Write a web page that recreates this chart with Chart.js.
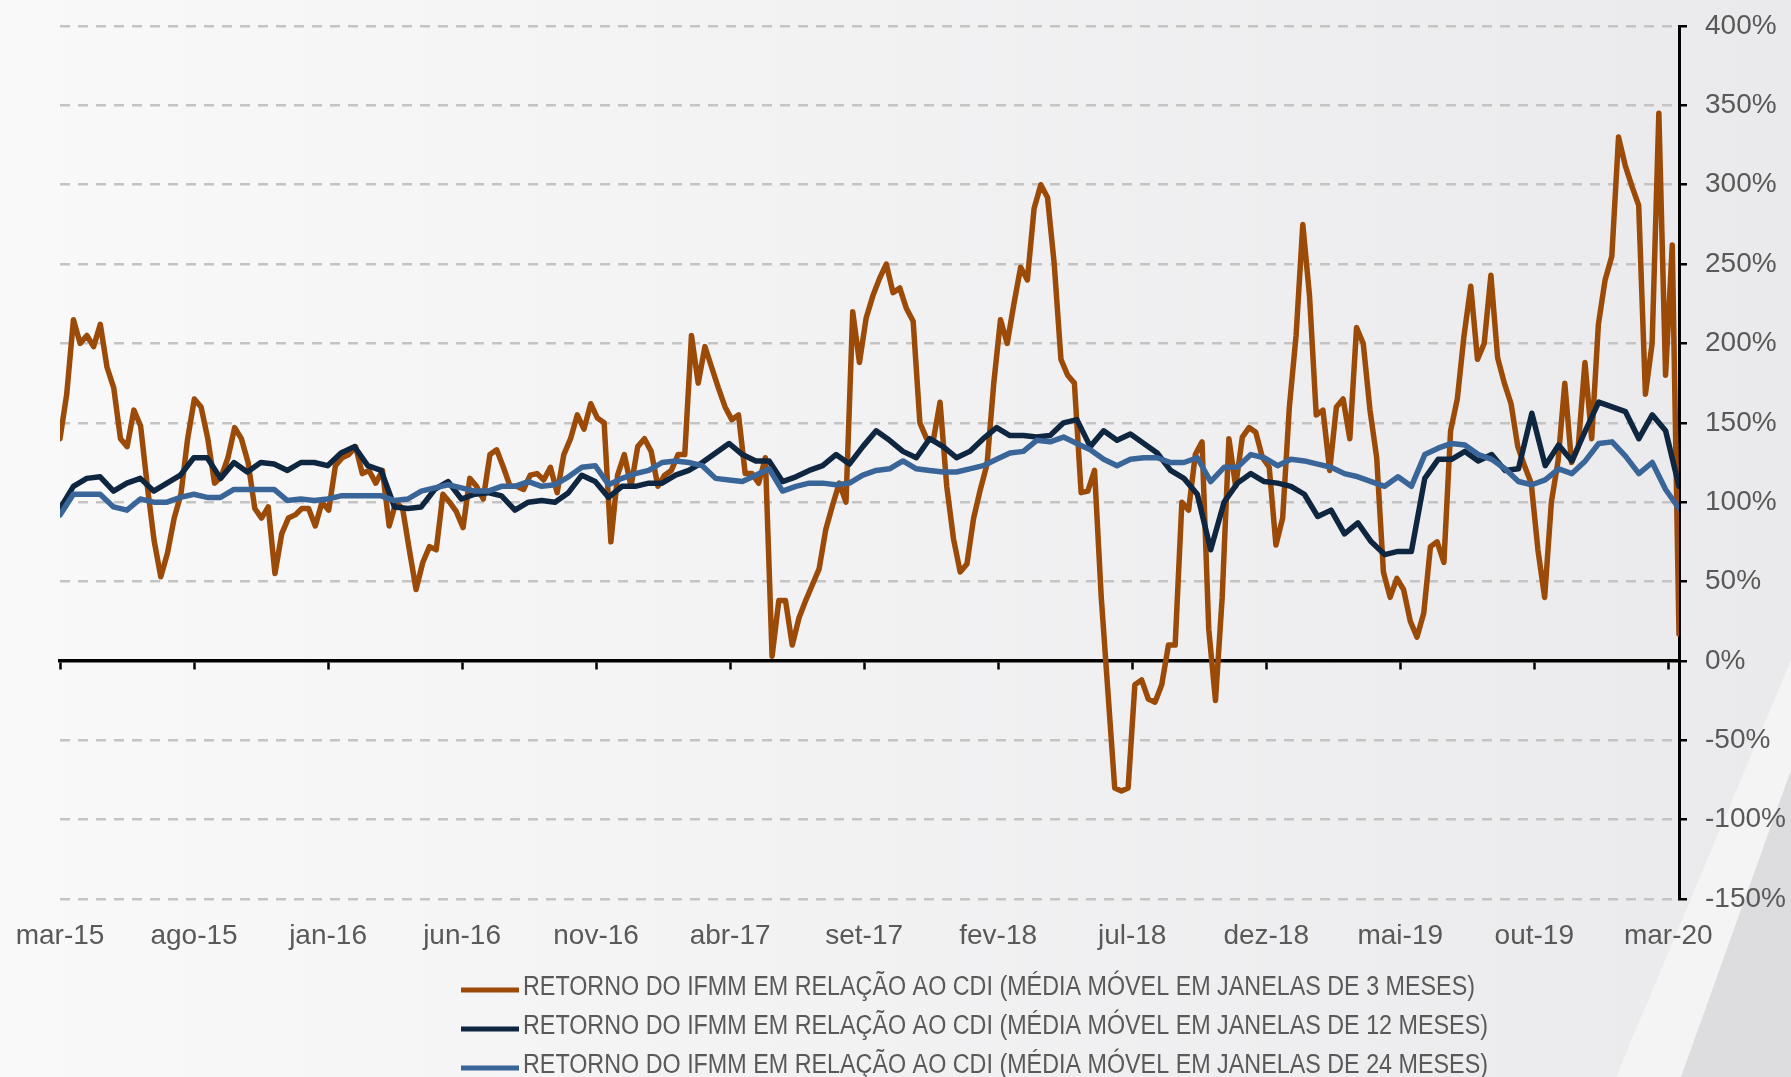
<!DOCTYPE html>
<html lang="pt-BR">
<head>
<meta charset="utf-8">
<title>Retorno do IFMM em relação ao CDI</title>
<script src="https://cdn.jsdelivr.net/npm/chart.js@4.4.1/dist/chart.umd.min.js"></script>
<style>
    html, body { margin: 0; padding: 0; background: #f3f3f4; }
    canvas { display: block; }
</style>
</head>
<body>
<canvas id="ifmmChart" width="1791" height="1077"></canvas>
<script>
// x axis: months since mar-15, one label every 5 months
const tickLabels = ['mar-15', 'ago-15', 'jan-16', 'jun-16', 'nov-16', 'abr-17', 'set-17',
    'fev-18', 'jul-18', 'dez-18', 'mai-19', 'out-19', 'mar-20'];
const END_MONTH = 60.4; // last observation, mid march 2020

const seriesLabels = [
    'RETORNO DO IFMM EM RELAÇÃO AO CDI (MÉDIA MÓVEL EM JANELAS DE 3 MESES)',
    'RETORNO DO IFMM EM RELAÇÃO AO CDI (MÉDIA MÓVEL EM JANELAS DE 12 MESES)',
    'RETORNO DO IFMM EM RELAÇÃO AO CDI (MÉDIA MÓVEL EM JANELAS DE 24 MESES)'
];

// 3 month window, roughly weekly readings (%)
const ret3m = [
    140, 168, 215, 200, 205, 198, 212, 185, 172, 140, 135, 158, 148, 110, 76, 53, 68, 90, 105, 140, 165, 160, 140, 112, 116,
    128, 147, 140, 125, 96, 90, 97, 55, 80, 90, 92, 96, 96, 85, 100, 95, 123, 128, 130, 135, 118, 120, 112, 120, 85,
    100, 96, 70, 45, 62, 72, 70, 105, 100, 94, 84, 115, 110, 102, 130, 133, 122, 110, 110, 108, 117, 118, 114, 122,
    106, 130, 140, 155, 146, 162, 153, 150, 75, 117, 130, 110, 135, 140, 132, 110, 117, 120, 130, 130, 205, 175, 198, 185, 172,
    160, 152, 155, 118, 118, 112, 128, 3, 38, 38, 10, 27, 38, 48, 58, 83, 98, 112, 100, 220, 188, 216, 230, 241,
    250, 232, 235, 222, 214, 150, 140, 139, 163, 110, 77, 56, 61, 90, 108, 124, 175, 215, 200, 225, 248, 240, 285, 300, 292,
    250, 190, 180, 175, 106, 107, 120, 40, -20, -80, -82, -80, -15, -12, -24, -26, -15, 10, 10, 100, 95, 130, 138, 20, -25,
    40, 140, 110, 141, 147, 144, 128, 122, 73, 90, 160, 205, 275, 230, 155, 158, 120, 160, 165, 140, 210, 200, 158, 128,
    56, 40, 52, 45, 25, 15, 30, 72, 75, 62, 145, 165, 205, 236, 190, 200, 243, 191, 175, 162, 135, 123, 112, 70, 40,
    100, 126, 175, 125, 135, 188, 140, 212, 240, 255, 330, 312, 299, 287, 168, 200, 345, 180, 262, 17
];

// 12 month window, half-month readings (%)
const ret12m = [
    96, 110, 115, 116, 107, 112, 115, 107, 112, 117, 128, 128, 115,
    125, 119, 125, 124, 120, 125, 125, 123, 131, 135, 123, 120,
    97, 96, 97, 108, 113, 102, 105, 106, 104, 95, 100, 101,
    100, 106, 117, 113, 103, 110, 110, 112, 112, 117, 120, 125, 131,
    137, 130, 126, 126, 113, 116, 120, 123, 130, 124, 135, 145,
    139, 132, 128, 140, 135, 128, 132, 140, 147, 142, 142, 141,
    142, 150, 152, 135, 145, 139, 143, 137, 131, 120, 115, 105, 70,
    100, 112, 118, 113, 112, 110, 105, 91, 95, 80, 87, 75,
    67, 69, 69, 115, 127, 127, 132, 126, 130, 120, 121, 156,
    123, 136, 126, 145, 163, 160, 157, 140, 155, 145, 110
];

// 24 month window, half-month readings (%)
const ret24m = [
    92, 105, 105, 105, 97, 95, 102, 100, 100, 103, 105, 103, 103,
    108, 108, 108, 108, 101, 102, 101, 102, 104, 104, 104, 104,
    101, 102, 107, 109, 111, 109, 107, 107, 110, 110, 113, 110,
    111, 116, 122, 123, 111, 115, 118, 120, 125, 126, 125, 123, 115,
    114, 113, 117, 121, 107, 110, 112, 112, 111, 112, 117, 120,
    121, 126, 121, 120, 119, 119, 121, 123, 127, 131, 132, 139,
    138, 141, 137, 133, 127, 123, 127, 128, 128, 125, 125, 128, 113,
    122, 122, 130, 128, 123, 127, 126, 124, 122, 118, 116, 113,
    110, 116, 110, 130, 134, 137, 136, 130, 127, 121, 113, 111,
    114, 121, 118, 126, 137, 138, 129, 118, 125, 108, 96
];

const textColor = '#595959';
const axisFont = { family: 'Liberation Sans', size: 28 };

// readings are evenly spread from mar-15 to the last observation
function toPoints(values) {
    const step = END_MONTH / (values.length - 1);
    return values.map((v, i) => ({ x: i * step, y: v }));
}

// light gray backdrop with the diagonal shapes in the lower right corner
const backdrop = {
    id: 'backdrop',
    beforeDraw(chart) {
        const { ctx, width, height } = chart;
        ctx.save();
        const g = ctx.createLinearGradient(0, 0, width, 0);
        g.addColorStop(0, '#f9f9fa');
        g.addColorStop(1, '#eaeaec');
        ctx.fillStyle = g;
        ctx.fillRect(0, 0, width, height);

        ctx.fillStyle = '#f4f4f5';
        ctx.beginPath();
        ctx.moveTo(width, 660);
        ctx.lineTo(width, height);
        ctx.lineTo(width - 175, height);
        ctx.closePath();
        ctx.fill();

        ctx.fillStyle = '#dddddf';
        ctx.beginPath();
        ctx.moveTo(width, 770);
        ctx.lineTo(width, height);
        ctx.lineTo(width - 110, height);
        ctx.closePath();
        ctx.fill();
        ctx.restore();
    }
};

// legend stacked under the axis, one series per row, narrow lettering
const stackedLegend = {
    id: 'stackedLegend',
    afterDraw(chart) {
        const { ctx } = chart;
        ctx.save();
        ctx.font = '27px "Liberation Sans"';
        const squeeze = 952 / ctx.measureText(chart.data.datasets[0].label).width;
        chart.data.datasets.forEach((ds, i) => {
            const y = 990 + i * 39;
            ctx.strokeStyle = ds.borderColor;
            ctx.lineWidth = 5;
            ctx.lineCap = 'butt';
            ctx.beginPath();
            ctx.moveTo(461, y);
            ctx.lineTo(519, y);
            ctx.stroke();

            ctx.save();
            ctx.translate(523, y + 5);
            ctx.scale(squeeze, 1);
            ctx.fillStyle = textColor;
            ctx.textBaseline = 'alphabetic';
            ctx.fillText(ds.label, 0, 0);
            ctx.restore();
        });
        ctx.restore();
    }
};

const chartCtx = document.getElementById('ifmmChart');
new Chart(chartCtx, {
    type: 'line',
    data: {
        datasets: [{
            label: seriesLabels[0],
            data: toPoints(ret3m),
            borderColor: '#9c4a08',
            borderWidth: 5.5,
            order: 3
        }, {
            label: seriesLabels[1],
            data: toPoints(ret12m),
            borderColor: '#0f2641',
            borderWidth: 5.5,
            order: 2
        }, {
            label: seriesLabels[2],
            data: toPoints(ret24m),
            borderColor: '#3a6599',
            borderWidth: 5.5,
            order: 1
        }]
    },
    options: {
        responsive: false,
        animation: false,
        devicePixelRatio: 1,
        layout: {
            padding: { left: 60, top: 26, right: 0, bottom: 0 }
        },
        elements: {
            point: { radius: 0 },
            line: {
                tension: 0,
                borderJoinStyle: 'round',
                borderCapStyle: 'round'
            }
        },
        plugins: {
            legend: { display: false },
            tooltip: { enabled: false }
        },
        scales: {
            x: {
                type: 'linear',
                min: 0,
                max: END_MONTH,
                border: { display: false },
                grid: { display: false, drawTicks: false },
                ticks: {
                    stepSize: 5,
                    includeBounds: false,
                    autoSkip: false,
                    maxRotation: 0,
                    padding: 20,
                    color: textColor,
                    font: axisFont,
                    callback: function(value) {
                        return tickLabels[Math.round(value / 5)];
                    }
                },
                afterFit: function(scale) {
                    scale.height = 178;
                    scale.paddingLeft = 0;
                    scale.paddingRight = 0;
                }
            },
            // black zero line with the small month ticks
            zero: {
                type: 'linear',
                axis: 'x',
                position: { y: 0 },
                min: 0,
                max: END_MONTH,
                border: { color: '#000000', width: 3.5 },
                grid: {
                    drawOnChartArea: false,
                    drawTicks: true,
                    tickLength: 7,
                    tickColor: '#000000',
                    tickWidth: 2.5
                },
                ticks: { display: false, stepSize: 5, includeBounds: false }
            },
            y: {
                position: 'right',
                min: -150,
                max: 400,
                border: { display: true, color: '#000000', width: 3, dash: [10, 8] },
                grid: {
                    color: function(c) {
                        return c.tick && c.tick.value === 0 ? 'rgba(0,0,0,0)' : '#c4c4c4';
                    },
                    lineWidth: 2.5,
                    tickLength: 8,
                    tickColor: '#000000',
                    tickWidth: 2.5
                },
                ticks: {
                    stepSize: 50,
                    padding: 18,
                    color: textColor,
                    font: axisFont,
                    callback: function(value) {
                        return value + '%';
                    }
                },
                afterFit: function(scale) {
                    scale.width = 112;
                    scale.paddingTop = 0;
                    scale.paddingBottom = 0;
                }
            }
        }
    },
    plugins: [backdrop, stackedLegend]
});
</script>
</body>
</html>
